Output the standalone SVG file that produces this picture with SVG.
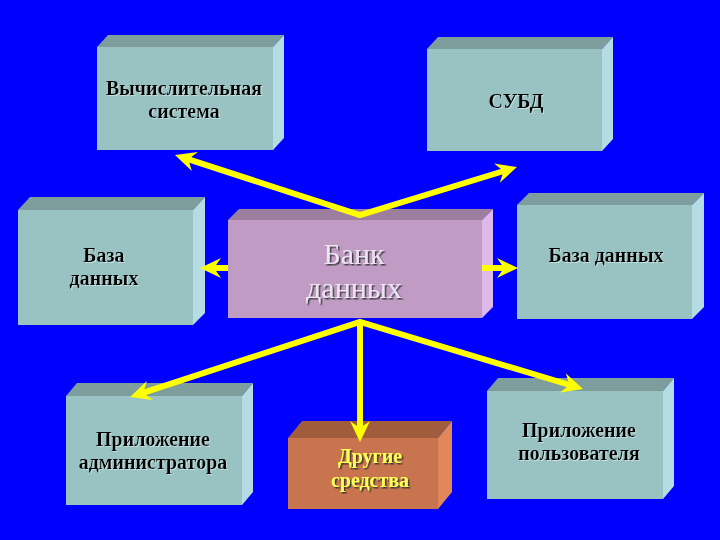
<svg xmlns="http://www.w3.org/2000/svg" width="720" height="540" viewBox="0 0 720 540">
<defs>
<style>
.front{fill:#99C3C3}.top{fill:#7E9E9E}.side{fill:#B4DCE2}
.bfront{fill:#C09CC4}.btop{fill:#9E7E9E}.bside{fill:#DEB8E8}
.ofront{fill:#C8744E}.otop{fill:#A05C3C}.oside{fill:#E2875A}
.lbl{font-family:"Liberation Serif","Times New Roman",serif;font-weight:bold;font-size:20px;fill:#000;text-anchor:middle}
.big{font-family:"Liberation Serif","Times New Roman",serif;font-size:30px;fill:#EDE4F2;text-anchor:middle}
.yel{font-family:"Liberation Serif","Times New Roman",serif;font-weight:bold;font-size:20px;fill:#FFFF55;text-anchor:middle}
.conn{fill:none;stroke:#FFFF00;stroke-width:6;stroke-linejoin:miter}
</style>
<filter id="sh" x="-10%" y="-10%" width="130%" height="140%"><feDropShadow dx="1.5" dy="1.5" stdDeviation="0.5" flood-color="#333" flood-opacity="0.9"/></filter>
<filter id="sl" x="-10%" y="-10%" width="130%" height="140%"><feDropShadow dx="1" dy="1" stdDeviation="0.4" flood-color="#CFE6E6" flood-opacity="0.8"/></filter>
<marker id="ah" viewBox="-21 -11 22 22" refX="-12" refY="0" markerWidth="22" markerHeight="22" markerUnits="userSpaceOnUse" orient="auto-start-reverse">
<path d="M0,0 L-21,-10 L-14,0 L-21,10 Z" fill="#FFFF00"/>
</marker>
</defs>
<rect width="720" height="540" fill="#0000FF"/>

<g id="node-vych">
<rect class="front" x="97" y="47" width="176" height="103"/>
<polygon class="top" points="97,47 108,35 284,35 273,47"/>
<polygon class="side" points="273,47 284,35 284,138 273,150"/>
<text class="lbl" filter="url(#sl)" x="184" y="95">Вычислительная</text>
<text class="lbl" filter="url(#sl)" x="184" y="118">система</text>
</g>

<g id="node-subd">
<rect class="front" x="427" y="49" width="175" height="102"/>
<polygon class="top" points="427,49 438,37 613,37 602,49"/>
<polygon class="side" points="602,49 613,37 613,139 602,151"/>
<text class="lbl" filter="url(#sl)" x="516" y="108">СУБД</text>
</g>

<g id="node-bd-left">
<rect class="front" x="18" y="210" width="175" height="115"/>
<polygon class="top" points="18,210 30,197 205,197 193,210"/>
<polygon class="side" points="193,210 205,197 205,313 193,325"/>
<text class="lbl" filter="url(#sl)" x="104" y="262">База</text>
<text class="lbl" filter="url(#sl)" x="104" y="285">данных</text>
</g>

<g id="node-bank">
<rect class="bfront" x="228" y="220" width="254" height="98"/>
<polygon class="btop" points="228,220 239,209 493,209 482,220"/>
<polygon class="bside" points="482,220 493,209 493,307 482,318"/>
<text class="big" filter="url(#sh)" x="354" y="264">Банк</text>
<text class="big" filter="url(#sh)" x="354" y="298">данных</text>
</g>

<g id="node-bd-right">
<rect class="front" x="517" y="205" width="175" height="114"/>
<polygon class="top" points="517,205 529,193 704,193 692,205"/>
<polygon class="side" points="692,205 704,193 704,307 692,319"/>
<text class="lbl" filter="url(#sl)" x="606" y="262">База данных</text>
</g>

<g id="node-admin">
<rect class="front" x="66" y="396" width="176" height="109"/>
<polygon class="top" points="66,396 77,383 253,383 242,396"/>
<polygon class="side" points="242,396 253,383 253,492 242,505"/>
<text class="lbl" filter="url(#sl)" x="153" y="446">Приложение</text>
<text class="lbl" filter="url(#sl)" x="153" y="469">администратора</text>
</g>

<g id="node-other">
<rect class="ofront" x="288" y="438" width="150" height="71"/>
<polygon class="otop" points="288,438 302,421 452,421 438,438"/>
<polygon class="oside" points="438,438 452,421 452,492 438,509"/>
<text class="yel" filter="url(#sh)" x="370" y="463">Другие</text>
<text class="yel" filter="url(#sh)" x="370" y="487">средства</text>
</g>

<g id="node-user">
<rect class="front" x="487" y="391" width="176" height="108"/>
<polygon class="top" points="487,391 498,378 674,378 663,391"/>
<polygon class="side" points="663,391 674,378 674,486 663,499"/>
<text class="lbl" filter="url(#sl)" x="579" y="437">Приложение</text>
<text class="lbl" filter="url(#sl)" x="579" y="460">пользователя</text>
</g>

<g id="connectors">
<polyline class="conn" points="186.4,158.7 360,215 505.5,170.5" marker-start="url(#ah)" marker-end="url(#ah)"/>
<line class="conn" x1="228" y1="268" x2="212" y2="268" marker-end="url(#ah)"/>
<line class="conn" x1="482" y1="268" x2="506" y2="268" marker-end="url(#ah)"/>
<polyline class="conn" points="141.4,393.3 360,322 571.5,385.5" marker-start="url(#ah)" marker-end="url(#ah)"/>
<line class="conn" x1="360" y1="322" x2="360" y2="430" marker-end="url(#ah)"/>
</g>
</svg>
